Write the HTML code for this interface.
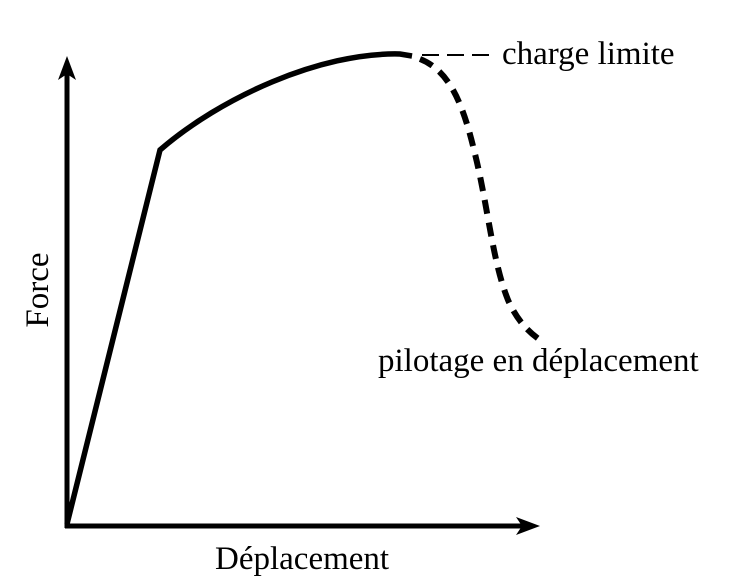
<!DOCTYPE html>
<html><head><meta charset="utf-8"><style>
html,body{margin:0;padding:0;background:#fff;}
svg{display:block;}
text{font-family:"Liberation Serif",serif;fill:#000;}
</style></head><body>
<svg width="732" height="580" viewBox="0 0 732 580" xmlns="http://www.w3.org/2000/svg">
<line x1="67" y1="528" x2="67" y2="72" stroke="#000" stroke-width="5"/>
<path d="M67,56 L58,80 L67,74 L76,80 Z" fill="#000"/>
<line x1="65" y1="526" x2="524" y2="526" stroke="#000" stroke-width="5"/>
<path d="M540,526 L516,517 L522,526 L516,535 Z" fill="#000"/>
<path d="M67,524 L160,150 C220,98 320,52 400,54 L412,56" fill="none" stroke="#000" stroke-width="5.5" stroke-linejoin="miter"/>
<path d="M420,59 C448,70 462,100 474,150 C488,205 492,260 508,300 C516,318 526,330 540,340" fill="none" stroke="#000" stroke-width="6" stroke-dasharray="14,9"/>
<line x1="422" y1="55" x2="494" y2="55" stroke="#000" stroke-width="2" stroke-dasharray="17,8"/>
<text x="502" y="64" font-size="33">charge limite</text>
<text x="378" y="371" font-size="33">pilotage en déplacement</text>
<text x="215" y="569" font-size="33">Déplacement</text>
<text transform="translate(48,290) rotate(-90)" text-anchor="middle" font-size="33">Force</text>
</svg>
</body></html>
